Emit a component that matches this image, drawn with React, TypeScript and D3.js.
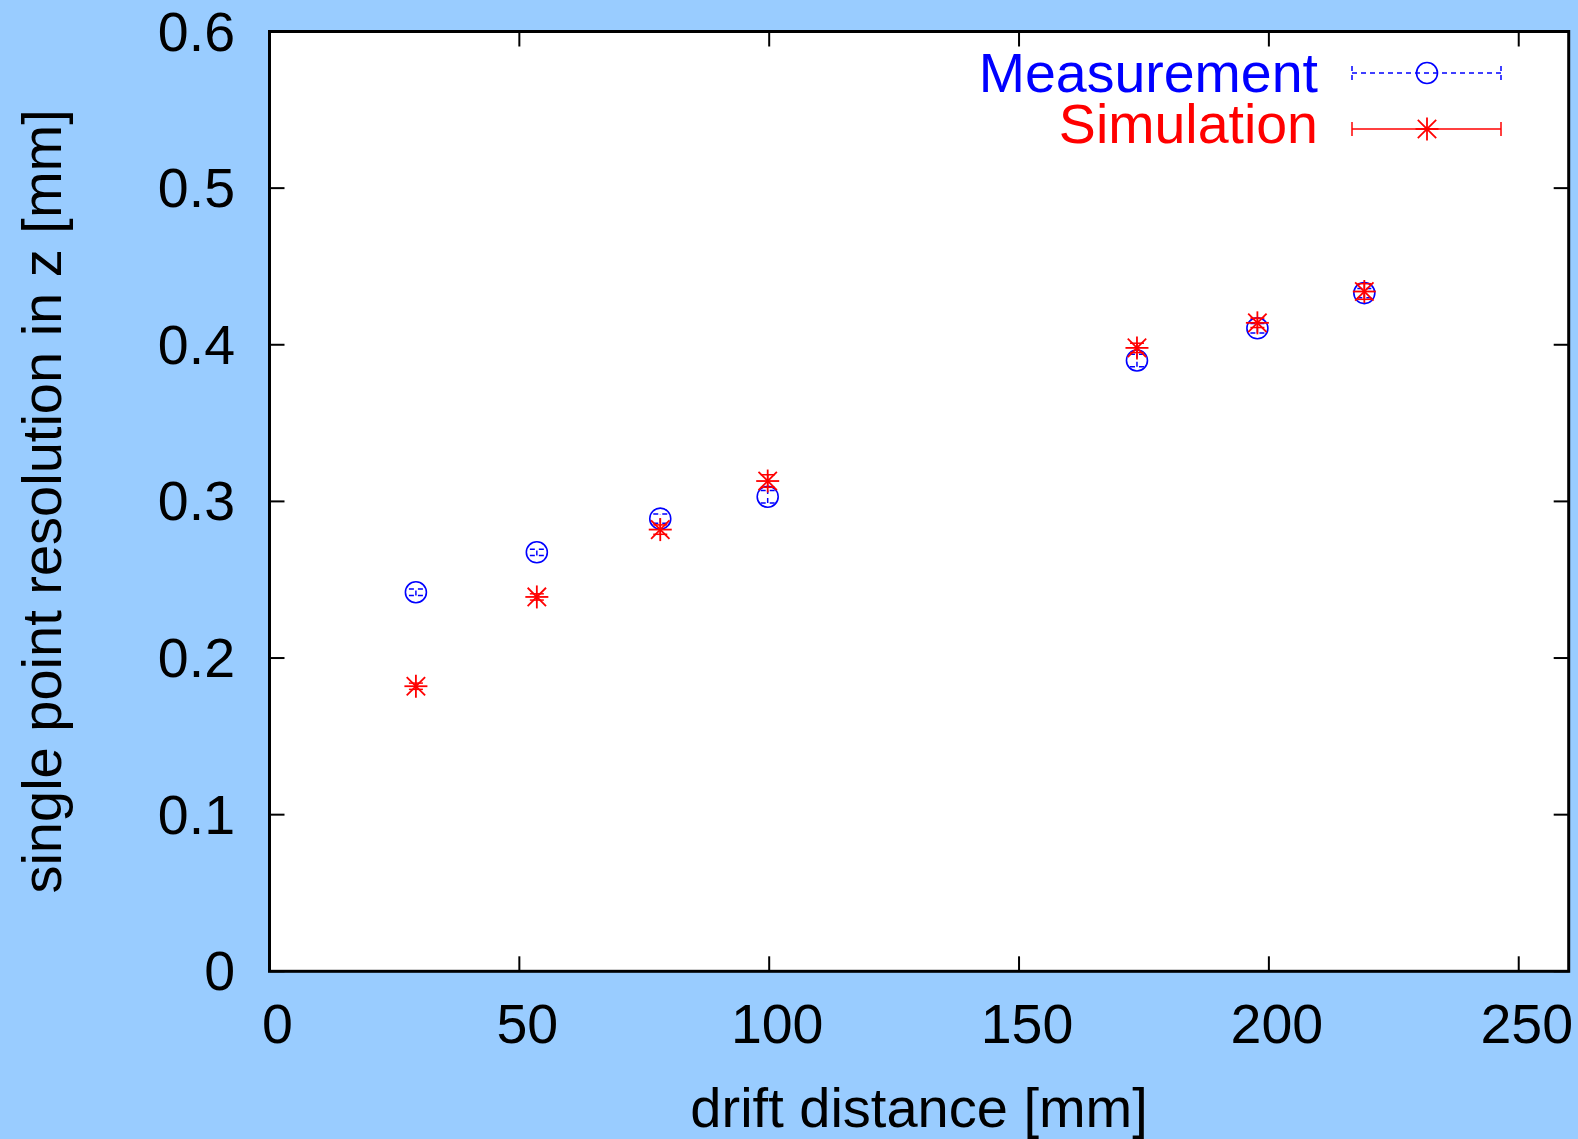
import React from "react";
import * as d3 from "d3";

const driftDistance = [29.3, 53.5, 78.2, 99.7, 173.6, 197.7, 219.1];
const measurement = [0.242, 0.2675, 0.289, 0.303, 0.39, 0.4105, 0.433];
const measurementErr = [0.002, 0.002, 0.003, 0.004, 0.004, 0.003, 0.003];
const simulation = [0.182, 0.239, 0.282, 0.313, 0.398, 0.414, 0.434];
const simulationErr = [0.002, 0.002, 0.003, 0.004, 0.003, 0.003, 0.005];
const xTicks = [0, 50, 100, 150, 200, 250];
const yTicks = [0, 0.1, 0.2, 0.3, 0.4, 0.5, 0.6];
const legendLabels = ["Measurement", "Simulation"];

const W = 1578;
const H = 1139;
const L = 269.5, R = 1568.7, T = 31.5, B = 971.3;
const FONT = "'Liberation Sans', Arial, Helvetica, sans-serif";
const BLUE = "#0000ff";
const RED = "#ff0000";

const x = d3.scaleLinear().domain([0, 260]).range([L, R]);
const y = d3.scaleLinear().domain([0, 0.6]).range([B, T]);

function Star({ cx, cy, r = 11.5 }: { cx: number; cy: number; r?: number }) {
  const d = r * 0.8;
  return (
    <g stroke={RED} strokeWidth={1.8}>
      <line x1={cx - r} y1={cy} x2={cx + r} y2={cy} />
      <line x1={cx} y1={cy - r} x2={cx} y2={cy + r} />
      <line x1={cx - d} y1={cy - d} x2={cx + d} y2={cy + d} />
      <line x1={cx - d} y1={cy + d} x2={cx + d} y2={cy - d} />
    </g>
  );
}

function ErrBar({ cx, y0, y1, color, dash }: { cx: number; y0: number; y1: number; color: string; dash?: string }) {
  const c = 7;
  return (
    <g stroke={color} strokeWidth={1.5} strokeDasharray={dash}>
      <line x1={cx} y1={y0} x2={cx} y2={y1} />
      <line x1={cx - c} y1={y0} x2={cx + c} y2={y0} />
      <line x1={cx - c} y1={y1} x2={cx + c} y2={y1} />
    </g>
  );
}

export default function App() {
  const tickLen = 15;
  const legX0 = 1352, legX1 = 1501, legMid = 1427;
  const legY = [73, 129];
  return (
    <svg
      width={W}
      height={H}
      style={{ position: "absolute", left: 0, top: 0, background: "#99ccff" }}
      fontFamily={FONT}
    >
      <rect x={0} y={0} width={W} height={H} fill="#99ccff" />
      <rect x={L} y={T} width={R - L} height={B - T} fill="#ffffff" />

      {/* ticks */}
      <g stroke="#000" strokeWidth={2}>
        {xTicks.map((t) => (
          <g key={"xt" + t}>
            <line x1={x(t)} y1={B} x2={x(t)} y2={B - tickLen} />
            <line x1={x(t)} y1={T} x2={x(t)} y2={T + tickLen} />
          </g>
        ))}
        {yTicks.map((t) => (
          <g key={"yt" + t}>
            <line x1={L} y1={y(t)} x2={L + tickLen} y2={y(t)} />
            <line x1={R} y1={y(t)} x2={R - tickLen} y2={y(t)} />
          </g>
        ))}
      </g>

      {/* tick labels */}
      <g fontSize={55.5} fill="#000">
        {xTicks.map((t) => (
          <text key={"xl" + t} x={x(t) + 8} y={1043} textAnchor="middle">
            {t}
          </text>
        ))}
        {yTicks.map((t) => (
          <text key={"yl" + t} x={235} y={y(t) + 19} textAnchor="end">
            {t === 0 ? "0" : t.toFixed(1)}
          </text>
        ))}
      </g>

      {/* axis titles */}
      <text x={(L + R) / 2} y={1127} textAnchor="middle" fontSize={56} fill="#000">
        drift distance [mm]
      </text>
      <text
        transform={`translate(61, ${(T + B) / 2}) rotate(-90)`}
        textAnchor="middle"
        fontSize={56}
        fill="#000"
      >
        single point resolution in z [mm]
      </text>

      {/* measurement */}
      {driftDistance.map((d, i) => (
        <g key={"m" + i}>
          <ErrBar
            cx={x(d)}
            y0={y(measurement[i] - measurementErr[i])}
            y1={y(measurement[i] + measurementErr[i])}
            color={BLUE}
            dash="5,4"
          />
          <circle cx={x(d)} cy={y(measurement[i])} r={10.5} fill="none" stroke={BLUE} strokeWidth={1.6} />
        </g>
      ))}

      {/* simulation */}
      {driftDistance.map((d, i) => (
        <g key={"s" + i}>
          <ErrBar
            cx={x(d)}
            y0={y(simulation[i] - simulationErr[i])}
            y1={y(simulation[i] + simulationErr[i])}
            color={RED}
          />
          <Star cx={x(d)} cy={y(simulation[i])} />
        </g>
      ))}

      {/* legend */}
      <g fontSize={55.5}>
        <text x={1318} y={91.7} textAnchor="end" fill={BLUE}>
          {legendLabels[0]}
        </text>
        <text x={1318} y={143} textAnchor="end" fill={RED}>
          {legendLabels[1]}
        </text>
      </g>
      <g stroke={BLUE} strokeWidth={1.5}>
        <line x1={legX0} y1={legY[0]} x2={legX1} y2={legY[0]} strokeDasharray="5,4" />
        <line x1={legX0} y1={legY[0] - 7} x2={legX0} y2={legY[0] + 7} strokeDasharray="5,4" />
        <line x1={legX1} y1={legY[0] - 7} x2={legX1} y2={legY[0] + 7} strokeDasharray="5,4" />
        <circle cx={legMid} cy={legY[0]} r={10.5} fill="none" strokeWidth={1.6} />
      </g>
      <g stroke={RED} strokeWidth={1.5}>
        <line x1={legX0} y1={legY[1]} x2={legX1} y2={legY[1]} />
        <line x1={legX0} y1={legY[1] - 7} x2={legX0} y2={legY[1] + 7} />
        <line x1={legX1} y1={legY[1] - 7} x2={legX1} y2={legY[1] + 7} />
      </g>
      <Star cx={legMid} cy={legY[1]} />

      {/* frame */}
      <rect x={L} y={T} width={R - L} height={B - T} fill="none" stroke="#000" strokeWidth={3} />
    </svg>
  );
}
